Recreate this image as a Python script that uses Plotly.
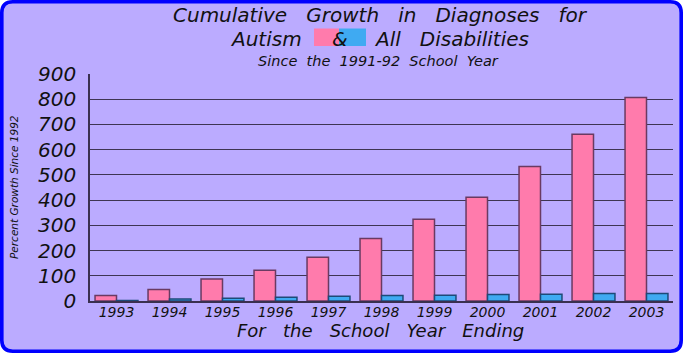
import plotly.graph_objects as go

years = ["1993", "1994", "1995", "1996", "1997", "1998", "1999", "2000", "2001", "2002", "2003"]
autism = [22, 46, 87, 122, 173, 248, 324, 411, 533, 661, 807]
all_dis = [2, 8, 11, 15, 19, 22, 23, 26, 27, 30, 30]
y_ticks = [0, 100, 200, 300, 400, 500, 600, 700, 800, 900]

W, H = 685, 355
ML, MR, MT, MB = 90, 12, 74, 54
PW, PH = W - ML - MR, H - MT - MB

def px(x):
    return (x - ML) / PW

def py(y):
    return (H - MB - y) / PH

FONT = "DejaVu Sans"
PINK = "#FF7BAC"
BLUE = "#3FAAF2"
BG = "#BBABFF"

fig = go.Figure()
fig.add_trace(go.Bar(x=years, y=autism, name="Autism", marker=dict(color=PINK, line=dict(color="#6A3A62", width=1.5))))
fig.add_trace(go.Bar(x=years, y=all_dis, name="All Disabilities", marker=dict(color=BLUE, line=dict(color="#1E4A78", width=1.5))))

# rounded border
x0, x1, y0, y1, r = 1.8, 681.2, 1.8, 351.2, 11
path = (f"M {px(x0 + r)},{py(y0)} L {px(x1 - r)},{py(y0)} Q {px(x1)},{py(y0)} {px(x1)},{py(y0 + r)} "
        f"L {px(x1)},{py(y1 - r)} Q {px(x1)},{py(y1)} {px(x1 - r)},{py(y1)} "
        f"L {px(x0 + r)},{py(y1)} Q {px(x0)},{py(y1)} {px(x0)},{py(y1 - r)} "
        f"L {px(x0)},{py(y0 + r)} Q {px(x0)},{py(y0)} {px(x0 + r)},{py(y0)} Z")
shapes = [
    dict(type="path", xref="paper", yref="paper", path=path, fillcolor=BG,
         line=dict(color="#0000FF", width=3.6), layer="below"),
    dict(type="rect", xref="paper", yref="paper", x0=px(314), x1=px(339), y0=py(46), y1=py(28.5),
         fillcolor=PINK, line=dict(width=0), layer="below"),
    dict(type="rect", xref="paper", yref="paper", x0=px(339), x1=px(366), y0=py(46), y1=py(28.5),
         fillcolor=BLUE, line=dict(width=0), layer="below"),
]

def ann(text, x, y, size, xanchor="center", angle=0):
    return dict(text=text, x=px(x), y=py(y), xref="paper", yref="paper", showarrow=False,
                xanchor=xanchor, yanchor="middle", textangle=angle,
                font=dict(family=FONT, size=size, color="#111111", style="italic"))

annotations = [
    ann("Cumulative   Growth   in   Diagnoses   for", 380, 14.5, 20),
    ann("Autism", 304, 38.5, 20, xanchor="right"),
    ann("&", 340, 38.5, 20),
    ann("All   Disabilities", 372, 38.5, 20, xanchor="left"),
    ann("Since  the  1991-92  School  Year", 378, 61.5, 14.5),
    ann("For   the   School   Year   Ending", 380, 330, 18),
    ann("Percent Growth Since 1992", 14, 187, 10.5, angle=-90),
]

fig.update_layout(
    width=W, height=H,
    margin=dict(l=ML, r=MR, t=MT, b=MB, pad=0),
    paper_bgcolor="white",
    plot_bgcolor="rgba(0,0,0,0)",
    barmode="group", bargap=0.19, bargroupgap=0,
    showlegend=False,
    shapes=shapes,
    annotations=annotations,
    xaxis=dict(type="category", showgrid=False, ticks="", showline=True, linecolor="#3A3050", linewidth=1.5,
               ticklabelstandoff=-3,
               tickfont=dict(family=FONT, size=14, color="#111111", style="italic")),
    yaxis=dict(range=[0, 900], tickvals=y_ticks, showgrid=True, gridcolor="#3E3552", gridwidth=1.3,
               showline=True, linecolor="#3A3050", linewidth=1.5, ticks="", zeroline=False,
               ticklabelstandoff=8,
               tickfont=dict(family=FONT, size=20, color="#111111", style="italic")),
)

fig.write_html("out.html")
